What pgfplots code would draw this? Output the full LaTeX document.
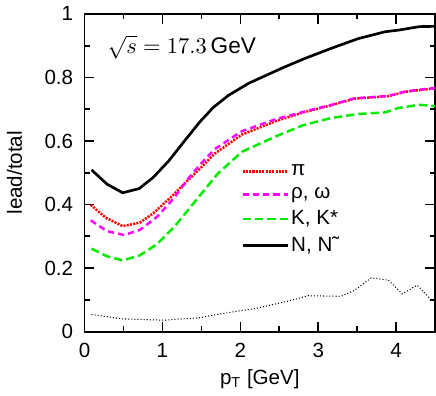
\documentclass[border=0pt]{standalone}
\usepackage{fontspec}
\setmainfont{Liberation Sans}
\usepackage{pgfplots}
\pgfplotsset{compat=1.18}
\definecolor{pired}{RGB}{255,0,0}
\definecolor{rhomag}{RGB}{255,0,255}
\definecolor{kgreen}{RGB}{0,235,0}

\begin{document}
\begin{tikzpicture}
\begin{axis}[
    width=170.5pt,
    height=154.5pt,
    scale only axis,
    xmin=0, xmax=4.5,
    ymin=0, ymax=1,
    xtick={0,1,2,3,4},
    ytick={0,0.2,0.4,0.6,0.8,1},
    minor x tick num=1,
    minor y tick num=1,
    tick pos=both,
    tick align=inside,
    major tick length=4.7pt,
    minor tick length=2.7pt,
    every tick/.style={black, line width=0.8pt},
    axis line style={line width=0.9pt},
    /pgf/number format/assume math mode=true,
    tick label style={font=\fontsize{10}{11}\selectfont},
    xticklabel style={yshift=-2pt},
    yticklabel style={xshift=-2pt},
    label style={font=\fontsize{10}{11}\selectfont},
    xlabel={p\textsubscript{T} [GeV]},
    ylabel={lead/total},
    xlabel style={at={(axis description cs:0.5,-0.15)}, anchor=center},
    ylabel style={at={(axis description cs:-0.2,0.5)}, anchor=center},
    legend style={draw=none, fill=none, at={(0.446,0.534)}, anchor=north west,
        font=\fontsize{10}{11}\selectfont, row sep=2.3pt, inner sep=0pt,
        nodes={inner sep=1pt}},
    legend cell align=left,
    legend image code/.code={\draw[#1] (0pt,0pt) -- (22pt,0pt);},
]
\addplot[pired, line width=1.2pt, dash pattern=on 1pt off 0.6pt] coordinates {
    (0.08,0.399) (0.27,0.359) (0.49,0.332) (0.71,0.343) (0.88,0.372)
    (1.10,0.421) (1.32,0.475) (1.47,0.510) (1.67,0.560) (2.02,0.620)
    (2.46,0.663) (2.81,0.690) (3.16,0.712) (3.46,0.733) (3.90,0.741)
    (4.12,0.755) (4.50,0.766)
};
\addplot[rhomag, line width=1.2pt, dash pattern=on 3pt off 2pt] coordinates {
    (0.08,0.350) (0.29,0.316) (0.51,0.304) (0.71,0.320) (0.93,0.361)
    (1.15,0.421) (1.34,0.484) (1.50,0.530) (1.67,0.574) (2.02,0.631)
    (2.46,0.669) (2.94,0.700) (3.16,0.713) (3.46,0.734) (3.90,0.742)
    (4.12,0.756) (4.50,0.767)
};
\addplot[kgreen, line width=1.2pt, dash pattern=on 4pt off 2pt] coordinates {
    (0.09,0.261) (0.29,0.237) (0.49,0.224) (0.71,0.240) (0.93,0.275)
    (1.15,0.329) (1.36,0.392) (1.52,0.440) (1.71,0.497) (2.02,0.566)
    (2.46,0.615) (2.81,0.650) (3.16,0.672) (3.51,0.685) (3.86,0.690)
    (4.03,0.704) (4.30,0.714) (4.50,0.710)
};
\addplot[black, line width=1.3pt] coordinates {
    (0.09,0.509) (0.29,0.464) (0.49,0.437) (0.70,0.450) (0.88,0.485)
    (1.08,0.537) (1.28,0.599) (1.48,0.660) (1.65,0.705) (1.85,0.744)
    (2.11,0.782) (2.55,0.831) (2.81,0.858) (3.16,0.891) (3.51,0.922)
    (3.86,0.944) (4.03,0.949) (4.30,0.960) (4.50,0.961)
};
\addplot[black, line width=0.5pt, dash pattern=on 0.5pt off 1pt, forget plot] coordinates {
    (0.09,0.054) (0.49,0.040) (1.01,0.036) (1.45,0.043) (1.80,0.058)
    (2.20,0.073) (2.63,0.097) (2.87,0.113) (3.29,0.111) (3.46,0.129)
    (3.68,0.169) (3.90,0.162) (4.08,0.119) (4.27,0.146) (4.45,0.100)
};
\legend{π, {ρ, ω}, {K, K*}, {N, N˜}}
\node[anchor=west, font=\fontsize{11}{12}\selectfont] at (axis description cs:0.045,0.896)
    {$\sqrt{s} = 17.3\,\mathrm{GeV}$};
\end{axis}
\end{tikzpicture}
\end{document}
